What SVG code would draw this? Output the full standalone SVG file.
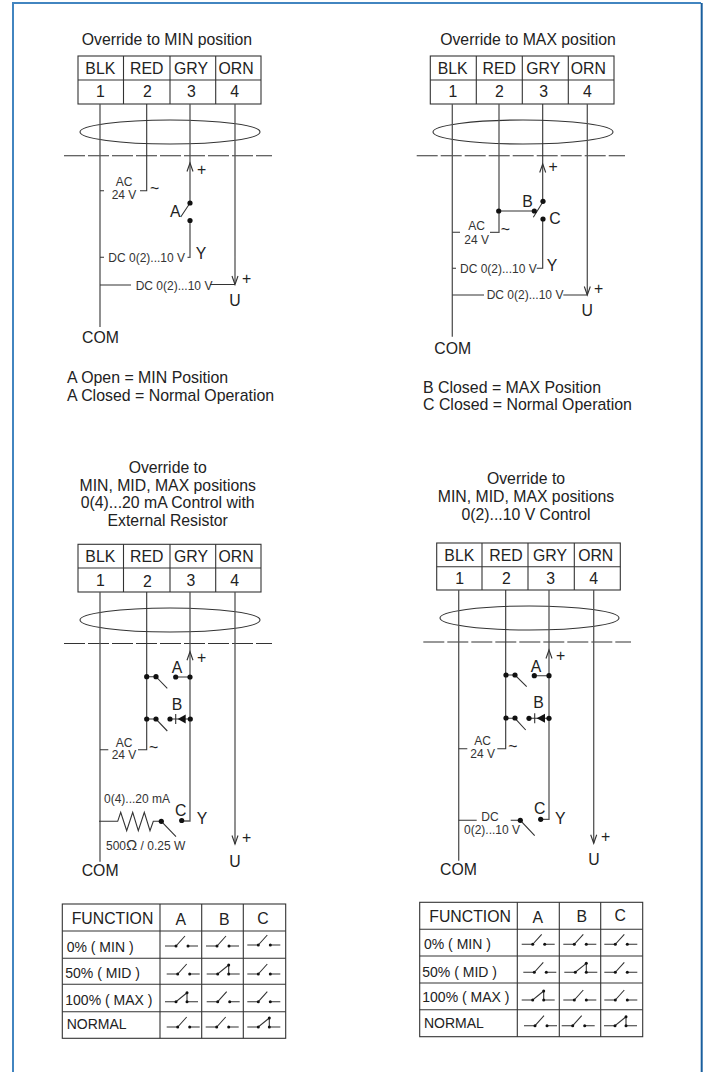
<svg xmlns="http://www.w3.org/2000/svg" width="708" height="1072" viewBox="0 0 708 1072">
<style>
text{font-family:"Liberation Sans",Arial,sans-serif;fill:#222}
.t{font-size:15.8px}
.n{font-size:15.9px}
.r{font-size:14px}
.m{text-anchor:middle}
.s{font-size:12px;fill:#333}
.l{fill:none;stroke:#333;stroke-width:1.1}
.g{fill:none;stroke:#555;stroke-width:1.3}
.c{fill:#fff;stroke:#333;stroke-width:1.1}
.d{fill:#111}
</style>
<defs>
<g id="sw-open"><path class="l" d="M0 0H11L20-10M23 0H33"/><circle class="d" cx="11" cy="0" r="1.5"/><circle class="d" cx="23" cy="0" r="1.5"/></g>
<g id="sw-closed"><path class="l" d="M0 0H11L22-9V0M22 0H33"/><circle class="d" cx="11" cy="0" r="1.5"/><circle class="d" cx="22" cy="-9" r="1.5"/><circle class="d" cx="22" cy="0" r="1.5"/></g>
<circle id="dot" class="d" r="2.6"/>
<path id="au" class="l" d="M-3 8.500L0 0L3 8.500"/>
<path id="ad" class="l" d="M-3-8.500L0 0L3-8.500"/>
</defs>
<g id="frame" fill="none" stroke-width="2">
<path stroke="#4285c0" d="M13 1072V3H701"/>
<path stroke="#1a5f9e" d="M701.700 3V1072"/>
</g>

<g id="panel-min">
<text class="t m" x="167" y="45">Override to MIN position</text>
<g id="terminals-min">
<rect class="c" x="78" y="56" width="183" height="48"/>
<path class="l" d="M78 80H261M123.500 56V104M170 56V104M215.700 56V104"/>
<text class="t m" x="100.300" y="74">BLK</text><text class="t m" x="146.700" y="74">RED</text><text class="t m" x="191" y="74">GRY</text><text class="t m" x="236" y="74">ORN</text>
<text class="t m" x="100.300" y="97.300">1</text><text class="t m" x="147.300" y="97.300">2</text><text class="t m" x="191.500" y="97.300">3</text><text class="t m" x="234.700" y="97.300">4</text>
</g>
<g id="connectors-min">
<ellipse class="l" cx="170" cy="132" rx="90" ry="12"/>
<path class="l" d="M64 155.700H272" stroke-dasharray="21 3"/>
<path class="g" d="M100 104V327M235 104V284M190 104V203M190 220.500V257.300H187.500"/>
<path class="l" d="M146.700 104V190.700H140M100 190.700H104M100 257.300H104M100 285H131M210 284.500H235M190 203L180.700 217"/>
<use href="#au" x="190" y="163"/><use href="#ad" x="235" y="284.500"/>
<use href="#dot" x="190" y="203"/><use href="#dot" x="190" y="220.500"/>
</g>
<text class="t" x="197" y="175">+</text>
<text class="s m" x="124" y="186">AC</text><text class="s m" x="124" y="199">24 V</text><text class="t" x="150" y="194">~</text>
<text class="t" x="170" y="216.700">A</text>
<text class="s" x="108.300" y="262">DC 0(2)...10 V</text><text class="t" x="195.700" y="259">Y</text>
<text class="s" x="135.700" y="290">DC 0(2)...10 V</text>
<text class="t" x="242" y="283.500">+</text><text class="t m" x="235" y="306">U</text>
<text class="t" x="82" y="343">COM</text>
<text class="n" x="67" y="383.300">A Open = MIN Position</text>
<text class="n" x="67" y="400.700">A Closed = Normal Operation</text>
</g>

<g id="panel-max">
<text class="t m" x="528" y="45">Override to MAX position</text>
<g id="terminals-max">
<rect class="c" x="430.300" y="56" width="183.700" height="48"/>
<path class="l" d="M430.300 80H614M476.300 56V104M522.300 56V104M568.300 56V104"/>
<text class="t m" x="452.700" y="74">BLK</text><text class="t m" x="499.300" y="74">RED</text><text class="t m" x="543.300" y="74">GRY</text><text class="t m" x="588.300" y="74">ORN</text>
<text class="t m" x="453" y="97.300">1</text><text class="t m" x="499.300" y="97.300">2</text><text class="t m" x="543.700" y="97.300">3</text><text class="t m" x="587.300" y="97.300">4</text>
</g>
<g id="connectors-max">
<ellipse class="l" cx="523" cy="132" rx="90" ry="12"/>
<path class="l" d="M416.700 155.700H625" stroke-dasharray="21 3"/>
<path class="g" d="M452.300 104V336.700M587.300 104V295M499 104V232.300H490"/>
<path class="l" d="M542.700 104V201.300M542.700 219V268.300H536.700M499 211H534.300M533.300 217.300L543 201.700M452.300 232.300H460M452.300 268.300H456M452.300 295H484M563.300 295H587.300"/>
<use href="#au" x="542.700" y="164"/><use href="#ad" x="587.300" y="295"/>
<use href="#dot" x="498.700" y="211"/><use href="#dot" x="534.300" y="211"/><use href="#dot" x="543" y="201.300"/><use href="#dot" x="543" y="219"/>
</g>
<text class="t" x="548.500" y="171.700">+</text>
<text class="t" x="522.300" y="206.700">B</text><text class="t" x="549.300" y="224">C</text>
<text class="s m" x="476.700" y="230">AC</text><text class="s m" x="476.700" y="244">24 V</text><text class="t" x="500.700" y="235">~</text>
<text class="s" x="460" y="273.300">DC 0(2)...10 V</text><text class="t" x="546.700" y="270.700">Y</text>
<text class="s" x="486.700" y="299.300">DC 0(2)...10 V</text>
<text class="t" x="594" y="294">+</text><text class="t m" x="587.300" y="315.700">U</text>
<text class="t" x="434.300" y="354.300">COM</text>
<text class="n" x="423" y="393">B Closed = MAX Position</text>
<text class="n" x="423" y="410">C Closed = Normal Operation</text>
</g>

<g id="panel-ma">
<text class="t m" x="167.700" y="472.700">Override to</text>
<text class="t m" x="167.700" y="490.700">MIN, MID, MAX positions</text>
<text class="t m" x="167.700" y="508.300">0(4)...20 mA Control with</text>
<text class="t m" x="167.700" y="526">External Resistor</text>
<g id="terminals-ma">
<rect class="c" x="78" y="544.300" width="183" height="47.700"/>
<path class="l" d="M78 568H261M123.500 544.300V592M170 544.300V592M215.700 544.300V592"/>
<text class="t m" x="100.300" y="562.300">BLK</text><text class="t m" x="146.700" y="561.700">RED</text><text class="t m" x="191" y="561.700">GRY</text><text class="t m" x="236" y="561.700">ORN</text>
<text class="t m" x="100.300" y="586">1</text><text class="t m" x="147.300" y="586.700">2</text><text class="t m" x="191" y="585.700">3</text><text class="t m" x="234.700" y="586">4</text>
</g>
<g id="connectors-ma">
<ellipse class="l" cx="170" cy="620" rx="90" ry="12"/>
<path class="l" d="M64 643.500H272" stroke-dasharray="21 3"/>
<path class="g" d="M100 592V861.700M235 592V844M190 592V821H181.700"/>
<path class="l" d="M146.700 592V749.700H138M100 749.700H108.300M146.700 676.700H156L167.300 688.300M146.700 719H156L167.300 731M175.700 677H190M170 719H190M175.700 714V724"/>
<path class="l" d="M99 821.300H117.700L120.700 812.300L126.700 830.700L132.700 812.300L138.300 830.700L144.300 812.300L150 830.700L153.300 821.300H161.300L176 836.700"/>
<path class="d" d="M177.700 719L185.700 714.500V723.500Z"/>
<use href="#au" x="190" y="651.700"/><use href="#ad" x="235" y="844"/>
<use href="#dot" x="146.700" y="676.700"/><use href="#dot" x="156" y="676.700"/><use href="#dot" x="175.700" y="677"/><use href="#dot" x="190" y="677"/>
<use href="#dot" x="146.700" y="719"/><use href="#dot" x="156" y="719"/><use href="#dot" x="170" y="719"/><use href="#dot" x="190.300" y="719"/>
<use href="#dot" x="161.300" y="821.300"/><use href="#dot" x="181.700" y="820.500"/>
</g>
<text class="t" x="197" y="662.700">+</text>
<text class="t" x="171.700" y="672.700">A</text><text class="t" x="171.700" y="710">B</text>
<text class="s m" x="124" y="747.300">AC</text><text class="s m" x="124" y="759.300">24 V</text><text class="t" x="149" y="753">~</text>
<text class="s" x="104" y="802.700">0(4)...20 mA</text>
<text class="t" x="175" y="816">C</text><text class="t" x="196.700" y="824">Y</text>
<text class="s" x="106" y="850">500<tspan font-size="15">Ω</tspan> / 0.25 W</text>
<text class="t" x="242" y="842.700">+</text><text class="t m" x="235" y="866.700">U</text>
<text class="t" x="81.700" y="876">COM</text>
</g>

<g id="panel-v">
<text class="t m" x="526" y="484">Override to</text>
<text class="t m" x="526" y="502">MIN, MID, MAX positions</text>
<text class="t m" x="526" y="520">0(2)...10 V Control</text>
<g id="terminals-v">
<rect class="c" x="436.700" y="543" width="183.600" height="47"/>
<path class="l" d="M436.700 566.700H620.300M482 543V590M528 543V590M574.300 543V590"/>
<text class="t m" x="459.300" y="561">BLK</text><text class="t m" x="506" y="561">RED</text><text class="t m" x="550" y="561">GRY</text><text class="t m" x="595.700" y="561">ORN</text>
<text class="t m" x="459.700" y="584.300">1</text><text class="t m" x="506.300" y="584.300">2</text><text class="t m" x="550.700" y="584.300">3</text><text class="t m" x="593.700" y="584.300">4</text>
</g>
<g id="connectors-v">
<ellipse class="l" cx="529.500" cy="618" rx="89.500" ry="12"/>
<path class="l" d="M423.300 642H631" stroke-dasharray="21 3"/>
<path class="g" d="M458.700 590V860.700M593.700 590V843.300M549 590V819.300H540.700"/>
<path class="l" d="M505.700 590V748.700H497.300M458.700 748.700H467.300M505.700 675H515L526.700 686.700M505.700 718.300H515L525.700 730M534.300 675.700H549M529 718.300H549M534.700 713.300V723.300M458.700 820.300H476.700M510.700 820.300H520.300L534.700 835.700"/>
<path class="d" d="M536.700 718.300L545 713.800V722.800Z"/>
<use href="#au" x="549" y="650"/><use href="#ad" x="593.700" y="843.300"/>
<use href="#dot" x="506" y="675"/><use href="#dot" x="515" y="675"/><use href="#dot" x="534.300" y="675.700"/><use href="#dot" x="549" y="675.700"/>
<use href="#dot" x="506" y="718"/><use href="#dot" x="515" y="718"/><use href="#dot" x="529" y="718.300"/><use href="#dot" x="549" y="718.300"/>
<use href="#dot" x="520.300" y="820.300"/><use href="#dot" x="540.700" y="819.300"/>
</g>
<text class="t" x="556" y="660.700">+</text>
<text class="t" x="530.700" y="671.700">A</text><text class="t" x="533.300" y="708.300">B</text>
<text class="s m" x="482.700" y="745">AC</text><text class="s m" x="482.700" y="758.300">24 V</text><text class="t" x="508.300" y="752">~</text>
<text class="s m" x="490" y="821">DC</text><text class="s" x="464" y="834">0(2)...10 V</text>
<text class="t" x="534" y="814">C</text><text class="t" x="555" y="824">Y</text>
<text class="t" x="601" y="841.700">+</text><text class="t m" x="594" y="865">U</text>
<text class="t" x="440" y="875">COM</text>
</g>

<g id="table-left">
<rect class="c" x="62.300" y="904" width="223.400" height="134.300"/>
<path class="l" d="M62.300 931H285.700M62.300 958.300H285.700M62.300 984.300H285.700M62.300 1011.700H285.700M160 904V1038.300M201.700 904V1038.300M243.300 904V1038.300"/>
<text class="t" x="71.700" y="924">FUNCTION</text><text class="t m" x="180.700" y="925">A</text><text class="t m" x="224.300" y="925">B</text><text class="t m" x="263" y="924">C</text>
<text class="r" x="66.700" y="951.700">0% ( MIN )</text>
<text class="r" x="65.300" y="978">50% ( MID )</text>
<text class="r" x="65.300" y="1005">100% ( MAX )</text>
<text class="r" x="66.700" y="1029">NORMAL</text>
<use href="#sw-open" x="165" y="946"/><use href="#sw-open" x="206" y="946"/><use href="#sw-open" x="247.300" y="945"/>
<use href="#sw-open" x="166.700" y="974"/><use href="#sw-closed" x="206.700" y="974"/><use href="#sw-open" x="247.300" y="974"/>
<use href="#sw-closed" x="165" y="1001.700"/><use href="#sw-open" x="206.700" y="1001.700"/><use href="#sw-open" x="247.300" y="1001.700"/>
<use href="#sw-open" x="166.700" y="1027"/><use href="#sw-open" x="205.700" y="1027"/><use href="#sw-closed" x="247.300" y="1027"/>
</g>

<g id="table-right">
<rect class="c" x="419.700" y="902.300" width="223" height="134.400"/>
<path class="l" d="M419.700 929.300H642.700M419.700 956H642.700M419.700 983H642.700M419.700 1009.700H642.700M517.300 902.300V1036.700M559.300 902.300V1036.700M600.700 902.300V1036.700"/>
<text class="t" x="429.300" y="921.700">FUNCTION</text><text class="t m" x="537.700" y="923.300">A</text><text class="t m" x="581.700" y="922">B</text><text class="t m" x="620.300" y="921">C</text>
<text class="r" x="424" y="949">0% ( MIN )</text>
<text class="r" x="422.300" y="977.300">50% ( MID )</text>
<text class="r" x="422.300" y="1002.300">100% ( MAX )</text>
<text class="r" x="424" y="1028.300">NORMAL</text>
<use href="#sw-open" x="521.700" y="944.300"/><use href="#sw-open" x="563.300" y="944.300"/><use href="#sw-open" x="604.300" y="944.300"/>
<use href="#sw-open" x="523.300" y="972.300"/><use href="#sw-closed" x="564.300" y="972.300"/><use href="#sw-open" x="604.300" y="972.300"/>
<use href="#sw-closed" x="521.700" y="1000"/><use href="#sw-open" x="563.300" y="1000"/><use href="#sw-open" x="604.300" y="1000"/>
<use href="#sw-open" x="524" y="1025.700"/><use href="#sw-open" x="561.700" y="1025.700"/><use href="#sw-closed" x="604" y="1025.700"/>
</g>
</svg>
